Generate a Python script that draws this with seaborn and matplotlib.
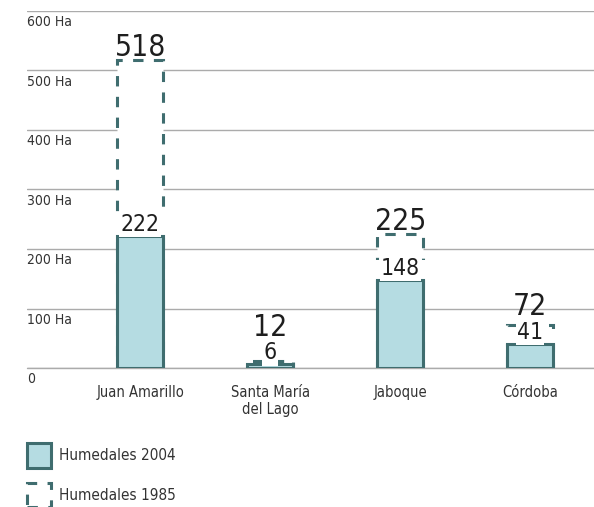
import matplotlib
matplotlib.use("Agg")
import matplotlib.pyplot as plt
from matplotlib.patches import Patch
import pandas as pd
import seaborn as sns

# Wetland area (hectares) per wetland, 1985 vs 2004
categories = ["Juan Amarillo", "Santa María\ndel Lago", "Jaboque", "Córdoba"]
area_1985 = [518, 12, 225, 72]
area_2004 = [222, 6, 148, 41]
y_ticks = [0, 100, 200, 300, 400, 500, 600]
y_tick_labels = ["0", "100 Ha", "200 Ha", "300 Ha", "400 Ha", "500 Ha", "600 Ha"]
legend_labels = ["Humedales 2004", "Humedales 1985"]

FILL = "#b5dce2"
EDGE = "#3f6d6f"
GRID = "#ababab"
TEXT = "#1e1e1e"

sns.set_style("white")
plt.rcParams["font.family"] = ["DejaVu Sans"]
plt.rcParams["font.stretch"] = "condensed"

df = pd.DataFrame({"humedal": categories, "a1985": area_1985, "a2004": area_2004})

fig = plt.figure(figsize=(5.94, 5.07), dpi=100)
ax = fig.add_axes([27 / 594, 1 - 368 / 507, 1 - 27 / 594, (368 - 11) / 507])

bar_w = 0.354
lw = 2.2
dash = (0, (3.4, 3.4))

# 1985 extent: dashed outline with white interior
sns.barplot(data=df, x="humedal", y="a1985", ax=ax, width=bar_w, color="white",
            edgecolor=EDGE, linewidth=lw, linestyle=dash, saturation=1, zorder=2)
for p in ax.patches:
    p.set_linestyle(dash)
    p.set_zorder(2)
n_dashed = len(ax.patches)

# 2004 extent: solid filled bars
sns.barplot(data=df, x="humedal", y="a2004", ax=ax, width=bar_w, color=FILL,
            edgecolor=EDGE, linewidth=lw, saturation=1, zorder=4)
for p in ax.patches[n_dashed:]:
    p.set_zorder(4)

ax.set_ylim(0, 600)
ax.set_xlim(-0.87, 3.49)
units_per_px = 600 / ax.bbox.height

# white strip behind the 2004 labels, interrupting the dashed sides
cover = 20 * units_per_px
for i, (a85, a04) in enumerate(zip(area_1985, area_2004)):
    h = min(cover, a85 - a04 - 4 * units_per_px)
    if h > 10 * units_per_px:
        ax.bar(i, h, bottom=a04, width=bar_w + 0.06, color="white",
               linewidth=0, zorder=3)

# value labels
for i, (a85, a04) in enumerate(zip(area_1985, area_2004)):
    ax.annotate(str(a04), (i, a04), xytext=(0, 3.6), textcoords="offset points",
                ha="center", va="baseline", fontsize=16.5, color=TEXT, zorder=6,
                bbox=dict(boxstyle="square,pad=0.05", fc="white", ec="none"))
    top = max(a85, a04 + 24 * units_per_px)
    ax.annotate(str(a85), (i, top), xytext=(0, 3), textcoords="offset points",
                ha="center", va="baseline", fontsize=21.5, color=TEXT, zorder=6)

# grid and axes styling
ax.set_yticks(y_ticks)
ax.yaxis.grid(True, color=GRID, linewidth=1.0, zorder=0)
ax.axhline(0, color=GRID, linewidth=1.0, zorder=1, clip_on=False)
ax.set_axisbelow(True)
ax.tick_params(axis="y", left=False, labelleft=False)
ax.tick_params(axis="x", length=0, pad=12, labelsize=10.5, colors="#333333")
for s in ax.spines.values():
    s.set_visible(False)
ax.set_xlabel("")
ax.set_ylabel("")
ax.set_xlim(-0.87, 3.49)

for t, lab in zip(y_ticks, y_tick_labels):
    ax.annotate(lab, (0, t), xycoords=ax.get_yaxis_transform(), xytext=(0, -3),
                textcoords="offset points", ha="left", va="top",
                fontsize=10, color="#333333")

handles = [
    Patch(facecolor=FILL, edgecolor=EDGE, linewidth=lw),
    Patch(facecolor="white", edgecolor=EDGE, linewidth=lw, linestyle=dash),
]
fig.legend(handles, legend_labels, loc="upper left",
           bbox_to_anchor=(27 / 594, 1 - 443 / 507), frameon=False,
           borderpad=0, borderaxespad=0, handlelength=1.6, handleheight=2.1,
           handletextpad=0.5, labelspacing=1.0, fontsize=11,
           labelcolor="#333333")

fig.savefig("out.png", dpi=100)
